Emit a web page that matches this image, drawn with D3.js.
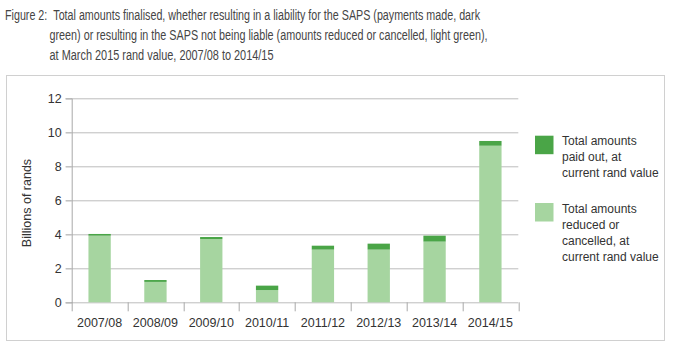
<!DOCTYPE html>
<html>
<head>
<meta charset="utf-8">
<style>
  body { margin: 0; background: #fff; }
  svg text { font-family: "Liberation Sans", Arial, sans-serif; }
</style>
</head>
<body>
<div id="container"></div>
<script src="https://cdn.jsdelivr.net/npm/d3@7"></script>
<script>
    // Data
    let years = ["2007/08", "2008/09", "2009/10", "2010/11", "2011/12", "2012/13", "2013/14", "2014/15"];
    let reduced = [3.92, 1.20, 3.72, 0.72, 3.10, 3.10, 3.57, 9.21];
    let paidOut = [0.10, 0.11, 0.12, 0.26, 0.23, 0.35, 0.35, 0.28];
    let yTicks = [0, 2, 4, 6, 8, 10, 12];

    let titleLines = [
        "Figure 2:\u00a0\u00a0Total amounts finalised, whether resulting in a liability for the SAPS (payments made, dark",
        "green) or resulting in the SAPS not being liable (amounts reduced or cancelled, light green),",
        "at March 2015 rand value, 2007/08 to 2014/15"
    ];
    let titleX = [5, 49.5, 49.5];
    let titleWidths = [475, 438, 224];

    let legendItems = [
        { label: ["Total amounts", "paid out, at", "current rand value"], color: "#4aa547" },
        { label: ["Total amounts", "reduced or", "cancelled, at", "current rand value"], color: "#a6d5a0" }
    ];

    let W = 676, H = 349;
    let margin = { top: 98.3, left: 71.7, right: 676 - 518.3, bottom: 349 - 302.3 };
    let width = W - margin.left - margin.right;
    let height = H - margin.top - margin.bottom;

    let svg = d3.select("#container")
        .append("svg")
        .attr("width", W)
        .attr("height", H);

    // Title
    svg.selectAll(".title")
        .data(titleLines)
        .enter()
        .append("text")
        .attr("class", "title")
        .attr("x", (d, i) => titleX[i])
        .attr("y", (d, i) => 19.5 + i * 20)
        .attr("fill", "#454545")
        .style("font-family", "'Liberation Sans Narrow', 'Liberation Sans', sans-serif")
        .style("font-size", "14px")
        .attr("textLength", (d, i) => titleWidths[i])
        .attr("lengthAdjust", "spacingAndGlyphs")
        .text((d) => d);

    // Frame
    svg.append("rect")
        .attr("x", 6.5)
        .attr("y", 75.5)
        .attr("width", 658)
        .attr("height", 265)
        .attr("fill", "none")
        .attr("stroke", "#d0d0d0");

    let g = svg.append("g")
        .attr("transform", `translate(${margin.left}, ${margin.top})`);

    // Scales
    let x = d3.scaleBand()
        .domain(years)
        .range([0, width])
        .paddingInner(0.6)
        .paddingOuter(0.3);

    let y = d3.scaleLinear()
        .domain([0, 12])
        .range([height, 0]);

    // Gridlines
    g.selectAll(".grid")
        .data(yTicks)
        .enter()
        .append("line")
        .attr("x1", -6)
        .attr("x2", width)
        .attr("y1", (d) => Math.round(y(d)) + 0.5)
        .attr("y2", (d) => Math.round(y(d)) + 0.5)
        .attr("stroke", "#bdbdbd");

    // Y axis
    let yAxis = g.append("g")
        .call(d3.axisLeft(y).tickValues(yTicks).tickSize(6).tickPadding(4));
    yAxis.select(".domain").attr("stroke", "#a8a8a8");
    yAxis.selectAll(".tick line").attr("stroke", "#bdbdbd");
    yAxis.selectAll("text")
        .attr("fill", "#333")
        .style("font-size", "12.5px");

    // X axis ticks at band boundaries
    let bounds = d3.range(years.length + 1).map((i) => i * width / years.length);
    g.selectAll(".xtick")
        .data(bounds)
        .enter()
        .append("line")
        .attr("x1", (d) => Math.round(d) + 0.5)
        .attr("x2", (d) => Math.round(d) + 0.5)
        .attr("y1", height)
        .attr("y2", height + 9)
        .attr("stroke", "#a8a8a8");

    g.selectAll(".xlabel")
        .data(years)
        .enter()
        .append("text")
        .attr("x", (d) => x(d) + x.bandwidth() / 2)
        .attr("y", height + 24.5)
        .attr("text-anchor", "middle")
        .attr("fill", "#333")
        .style("font-size", "12.5px")
        .text((d) => d);

    // Stacked bars
    let stackData = years.map((d, i) => ({ year: d, reduced: reduced[i], paid: paidOut[i] }));
    let series = d3.stack().keys(["reduced", "paid"])(stackData);
    let colors = { reduced: "#a6d5a0", paid: "#4aa547" };

    g.selectAll(".series")
        .data(series)
        .enter()
        .append("g")
        .attr("fill", (d) => colors[d.key])
        .selectAll("rect")
        .data((d) => d)
        .enter()
        .append("rect")
        .attr("x", (d) => x(d.data.year))
        .attr("y", (d) => y(d[1]))
        .attr("width", x.bandwidth())
        .attr("height", (d) => y(d[0]) - y(d[1]));

    // Y title
    svg.append("text")
        .attr("transform", "translate(31, 203) rotate(-90)")
        .attr("text-anchor", "middle")
        .attr("fill", "#333")
        .style("font-size", "12.5px")
        .text("Billions of rands");

    // Legend
    let legendTop = [135.7, 203];
    legendItems.forEach((item, k) => {
        svg.append("rect")
            .attr("x", 535)
            .attr("y", legendTop[k])
            .attr("width", 18.5)
            .attr("height", 18.5)
            .attr("fill", item.color);
        svg.append("g")
            .selectAll("text")
            .data(item.label)
            .enter()
            .append("text")
            .attr("x", 562)
            .attr("y", (d, i) => legendTop[k] + 9.5 + i * 16)
            .attr("fill", "#333")
            .style("font-size", "12px")
            .text((d) => d);
    });
</script>
</body>
</html>
